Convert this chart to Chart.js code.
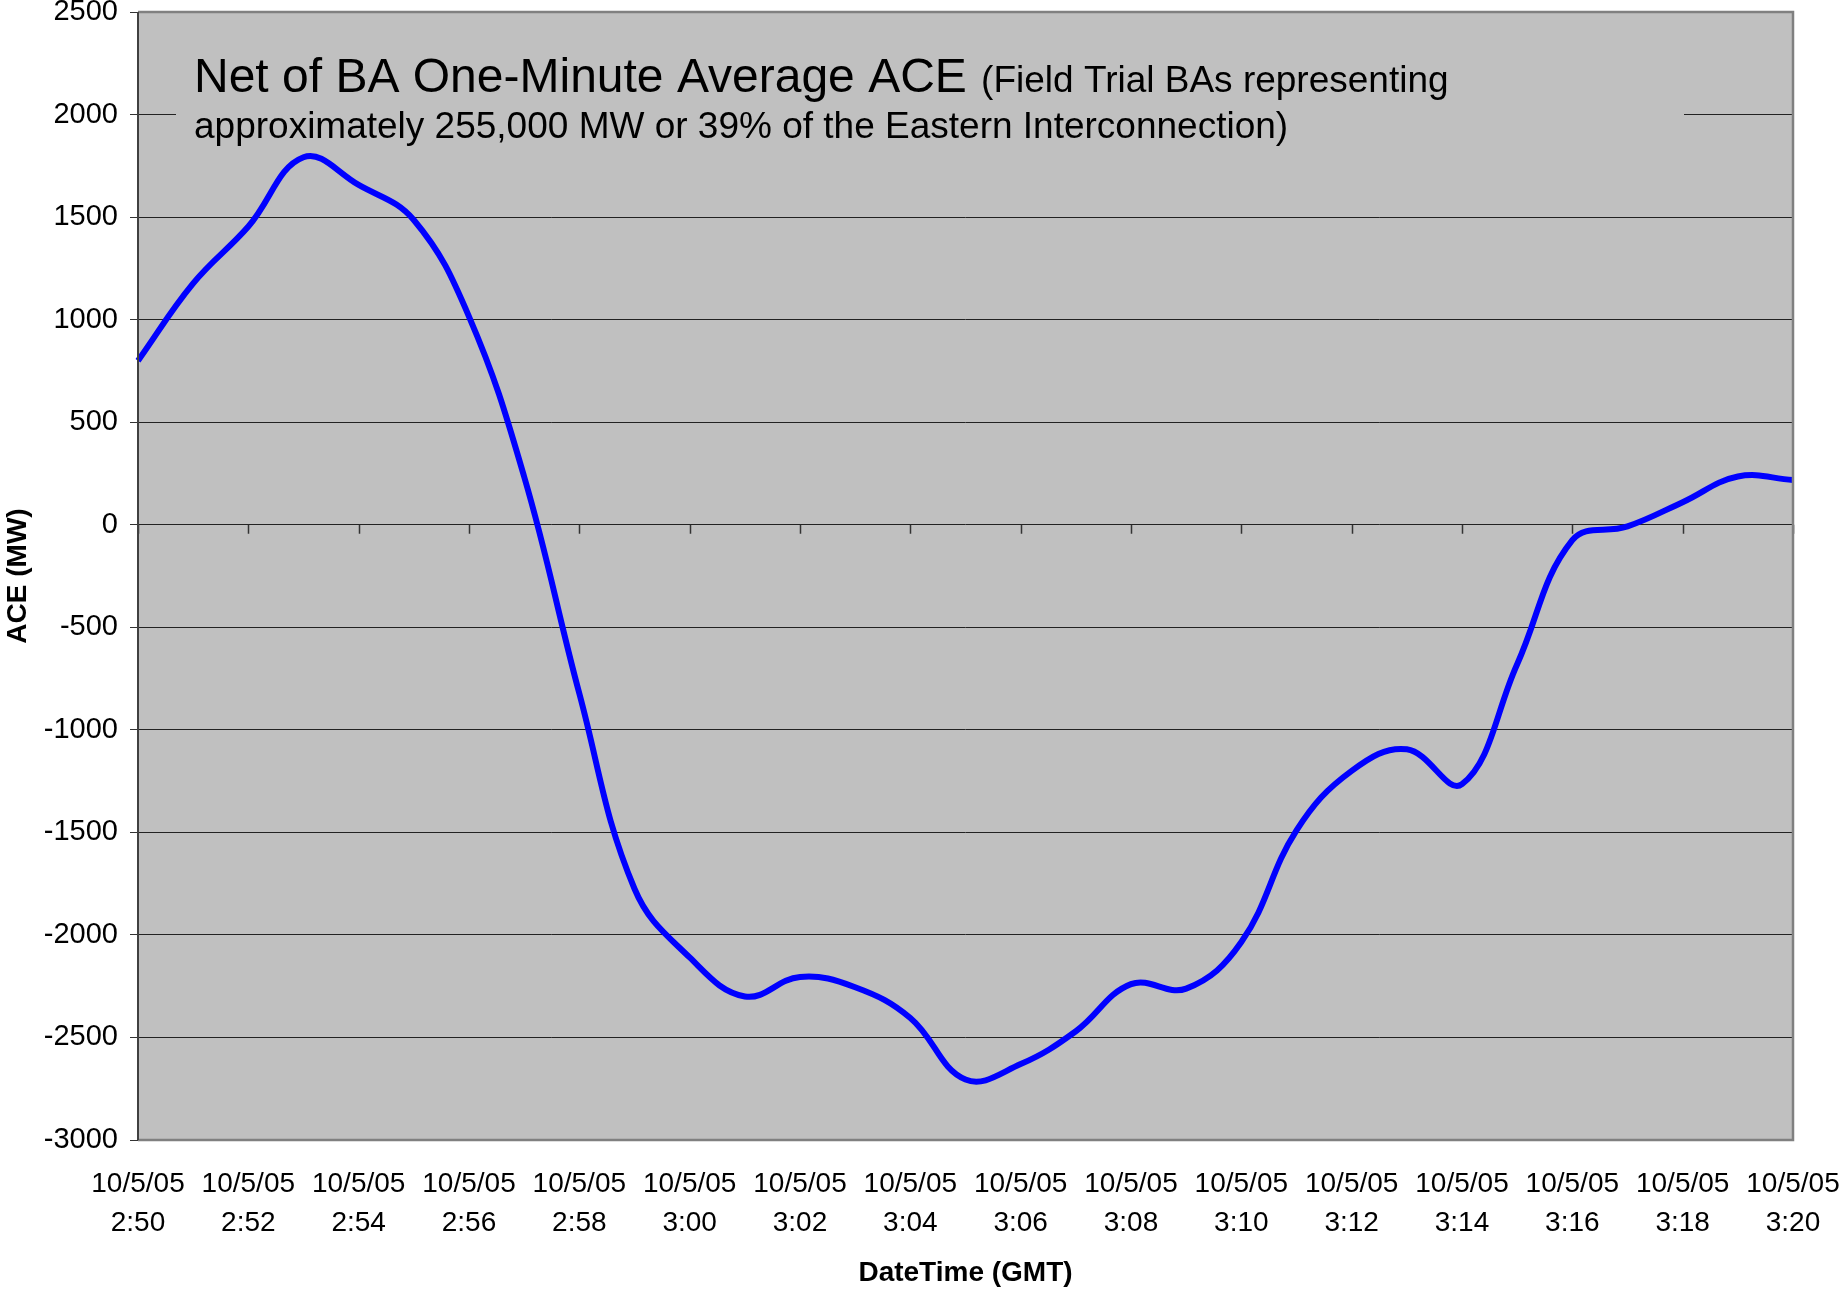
<!DOCTYPE html>
<html>
<head>
<meta charset="utf-8">
<title>Net of BA One-Minute Average ACE</title>
<script src="https://cdn.jsdelivr.net/npm/chart.js@4.4.1/dist/chart.umd.min.js"></script>
<style>
    html, body { margin: 0; padding: 0; background: #ffffff; }
    #wrap { width: 1843px; height: 1291px; }
</style>
</head>
<body>
<div id="wrap"><canvas id="aceChart" width="1843" height="1291"></canvas></div>
<script>
// Chart data (one-minute averages)
const dateLabel = '10/5/05';
const times = [
    '2:50', '2:51', '2:52', '2:53', '2:54', '2:55', '2:56', '2:57', '2:58', '2:59',
    '3:00', '3:01', '3:02', '3:03', '3:04', '3:05', '3:06', '3:07', '3:08', '3:09',
    '3:10', '3:11', '3:12', '3:13', '3:14', '3:15', '3:16', '3:17', '3:18', '3:19',
    '3:20'
];
const aceMW = [
    800, 1177, 1454, 1792, 1657, 1486, 1015, 234, -823, -1775,
    -2110, -2300, -2205, -2255, -2405, -2705, -2630, -2470, -2240, -2262,
    -2035, -1490, -1200, -1095, -1265, -680, -75, -8, 110, 235,
    218
];
const yTicks = { min: -3000, max: 2500, step: 500 };

const titleMain = 'Net of BA One-Minute Average ACE';
const titleNote1 = ' (Field Trial BAs representing';
const titleNote2 = 'approximately 255,000 MW or 39% of the Eastern Interconnection)';

const FONT = '"Liberation Sans", Arial, sans-serif';
const PLOT_BG = '#c0c0c0';

// Plot background, title box, zero-line ticks and frame
const plotDecor = {
    id: 'plotDecor',
    beforeDraw(chart) {
        const { ctx, chartArea: a } = chart;
        ctx.save();
        ctx.fillStyle = PLOT_BG;
        ctx.fillRect(a.left, a.top, a.right - a.left, a.bottom - a.top);
        ctx.restore();
    },
    beforeDatasetsDraw(chart) {
        const { ctx } = chart;
        const xs = chart.scales.x;
        const ys = chart.scales.y;

        // title text box (hides the gridline behind it)
        ctx.save();
        ctx.fillStyle = PLOT_BG;
        ctx.fillRect(176, 38, 1508, 130);

        ctx.fillStyle = '#000';
        ctx.textBaseline = 'alphabetic';
        ctx.textAlign = 'left';
        ctx.font = '48px ' + FONT;
        ctx.fillText(titleMain, 194, 92);
        const w = ctx.measureText(titleMain).width;
        ctx.font = '37px ' + FONT;
        ctx.fillText(titleNote1, 194 + w + 4, 92);
        ctx.fillText(titleNote2, 194, 138);

        // category axis crosses at zero: tick marks every 2 minutes
        const y0 = ys.getPixelForValue(0);
        ctx.strokeStyle = '#333';
        ctx.lineWidth = 1.5;
        ctx.beginPath();
        for (let i = 0; i < times.length; i += 2) {
            const x = Math.round(xs.getPixelForValue(i)) + 0.5;
            ctx.moveTo(x, y0);
            ctx.lineTo(x, y0 + 9);
        }
        ctx.stroke();
        ctx.restore();
    },
    afterDatasetsDraw(chart) {
        const { ctx, chartArea: a } = chart;
        ctx.save();
        ctx.strokeStyle = '#808080';
        ctx.lineWidth = 2.5;
        ctx.beginPath();
        ctx.moveTo(a.left, a.top);
        ctx.lineTo(a.right, a.top);
        ctx.lineTo(a.right, a.bottom);
        ctx.lineTo(a.left, a.bottom);
        ctx.stroke();
        ctx.strokeStyle = '#404040';
        ctx.lineWidth = 2;
        ctx.beginPath();
        ctx.moveTo(a.left, a.top);
        ctx.lineTo(a.left, a.bottom);
        ctx.stroke();
        ctx.restore();
    }
};

document.addEventListener('DOMContentLoaded', () => {
    const ctx = document.getElementById('aceChart');

    new Chart(ctx, {
        type: 'line',
        data: {
            labels: times,
            datasets: [{
                label: 'ACE (MW)',
                data: aceMW,
                borderColor: '#0000ff',
                borderWidth: 6,
                pointRadius: 0,
                tension: 0.4,
                fill: false
            }]
        },
        options: {
            responsive: false,
            animation: false,
            devicePixelRatio: 1,
            layout: {
                padding: { left: 0, top: 12, right: 50, bottom: 0 }
            },
            plugins: {
                legend: { display: false },
                tooltip: { enabled: false },
                title: { display: false }
            },
            scales: {
                x: {
                    type: 'category',
                    offset: false,
                    grid: { display: false, drawTicks: false },
                    border: { display: false },
                    ticks: {
                        autoSkip: false,
                        maxRotation: 0,
                        minRotation: 0,
                        padding: 25,
                        color: '#000',
                        font: { family: FONT, size: 28, lineHeight: 1.38 },
                        callback: (val, i) => (i % 2 === 0 ? [dateLabel, times[i]] : null)
                    },
                    title: {
                        display: true,
                        text: 'DateTime (GMT)',
                        color: '#000',
                        font: { family: FONT, size: 28, weight: 'bold' },
                        padding: { top: 0, bottom: 1 }
                    },
                    afterFit: (scale) => {
                        scale.height = 151;
                        scale.paddingLeft = 0;
                        scale.paddingRight = 0;
                    }
                },
                y: {
                    min: yTicks.min,
                    max: yTicks.max,
                    grid: {
                        color: '#222',
                        lineWidth: 1,
                        drawTicks: true,
                        tickLength: 8,
                        tickColor: '#333'
                    },
                    border: { display: false },
                    ticks: {
                        stepSize: yTicks.step,
                        padding: 12,
                        color: '#000',
                        font: { family: FONT, size: 29 },
                        callback: (v) => String(v)
                    },
                    title: {
                        display: true,
                        text: 'ACE (MW)',
                        color: '#000',
                        font: { family: FONT, size: 28, weight: 'bold' },
                        padding: { top: 1, bottom: 0 }
                    },
                    afterFit: (scale) => {
                        scale.width = 138;
                        scale.paddingTop = 0;
                        scale.paddingBottom = 0;
                    }
                }
            }
        },
        plugins: [plotDecor]
    });
});
</script>
</body>
</html>
